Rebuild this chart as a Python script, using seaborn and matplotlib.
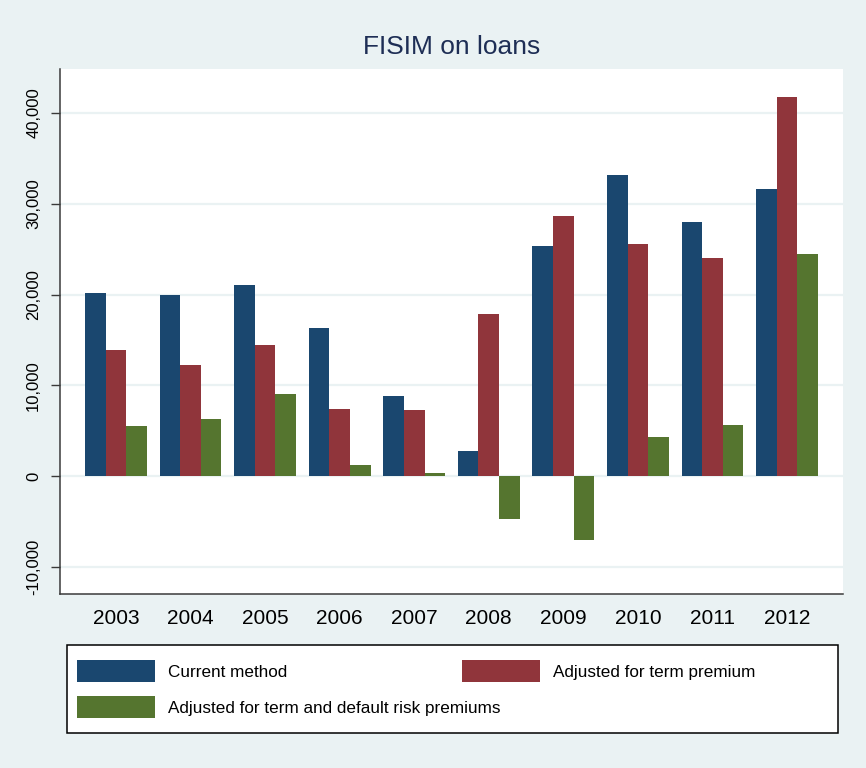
import matplotlib
matplotlib.use("Agg")
import matplotlib.pyplot as plt
import seaborn as sns
import pandas as pd
from matplotlib.patches import Patch, Rectangle

# ---- data ----
years = ["2003", "2004", "2005", "2006", "2007", "2008", "2009", "2010", "2011", "2012"]
current_method = [20200, 20000, 21100, 16370, 8800, 2750, 25300, 33200, 28000, 31650]
term_premium = [13850, 12200, 14400, 7360, 7250, 17900, 28700, 25600, 24000, 41760]
term_default = [5500, 6260, 9000, 1200, 330, -4700, -7030, 4290, 5600, 24500]
series_names = ["Current method", "Adjusted for term premium",
                "Adjusted for term and default risk premiums"]
colors = ["#1A476F", "#90353B", "#55752F"]
ytick_values = [-10000, 0, 10000, 20000, 30000, 40000]
title = "FISIM on loans"

rows = []
for name, vals in zip(series_names, [current_method, term_premium, term_default]):
    for y, v in zip(years, vals):
        rows.append({"year": y, "value": v, "series": name})
df = pd.DataFrame(rows)

BG = "#EAF2F3"
W, H = 866, 768

sns.set_theme(style="white")
plt.rcParams['font.family'] = ['Liberation Sans', 'DejaVu Sans']
plt.rcParams['text.color'] = 'black'

fig = plt.figure(figsize=(W / 100, H / 100), dpi=100, facecolor=BG)
ax = fig.add_axes([60 / W, 1 - 594 / H, (843 - 60) / W, (594 - 69) / H])
ax.set_facecolor("white")

sns.barplot(data=df, x="year", y="value", hue="series", hue_order=series_names,
            palette=colors, saturation=1, width=0.83, gap=0, errorbar=None,
            legend=False, ax=ax, linewidth=0)

ax.set_xlim(-0.75, 9.75)
ax.set_ylim(-12967, 44835)
ax.set_yticks(ytick_values)
ax.set_yticklabels([f"{v:,}" for v in ytick_values], rotation=90, va="center")
ax.set_xlabel("")
ax.set_ylabel("")

ax.yaxis.grid(True, color=BG, linewidth=1.6)
ax.xaxis.grid(False)
ax.set_axisbelow(True)

for s in ["top", "right"]:
    ax.spines[s].set_visible(False)
for s in ["left", "bottom"]:
    ax.spines[s].set_color("#3a3a3a")
    ax.spines[s].set_linewidth(1.1)

ax.tick_params(axis="x", length=0, pad=11, labelsize=15, colors="black")
ax.tick_params(axis="y", length=6.5, width=1, color="#3a3a3a", pad=7,
               labelsize=12, labelcolor="black", left=True)

fig.text(451.5 / W, 1 - 47 / H, title, ha="center", va="center",
         fontsize=19, color="#1E2E55")

# ---- legend ----
fig.patches.append(Rectangle((67 / W, 1 - 733 / H), (838 - 67) / W, (733 - 645) / H,
                             transform=fig.transFigure, facecolor="white",
                             edgecolor="black", linewidth=1.1, zorder=1))
fs = 12.3
fs_px = fs * 100 / 72
entries = [(0, 77, 671), (1, 462, 671), (2, 77, 707)]
for idx, xpx, ypx in entries:
    h = Patch(facecolor=colors[idx], edgecolor="none")
    fig.legend([h], [series_names[idx]], loc="center left",
               bbox_to_anchor=(xpx / W, 1 - ypx / H), frameon=False,
               borderpad=0, borderaxespad=0, fontsize=fs, labelcolor="black",
               handlelength=78 / fs_px, handleheight=27 / fs_px,
               handletextpad=13 / fs_px)

fig.savefig("out.png", dpi=100, facecolor=BG)
